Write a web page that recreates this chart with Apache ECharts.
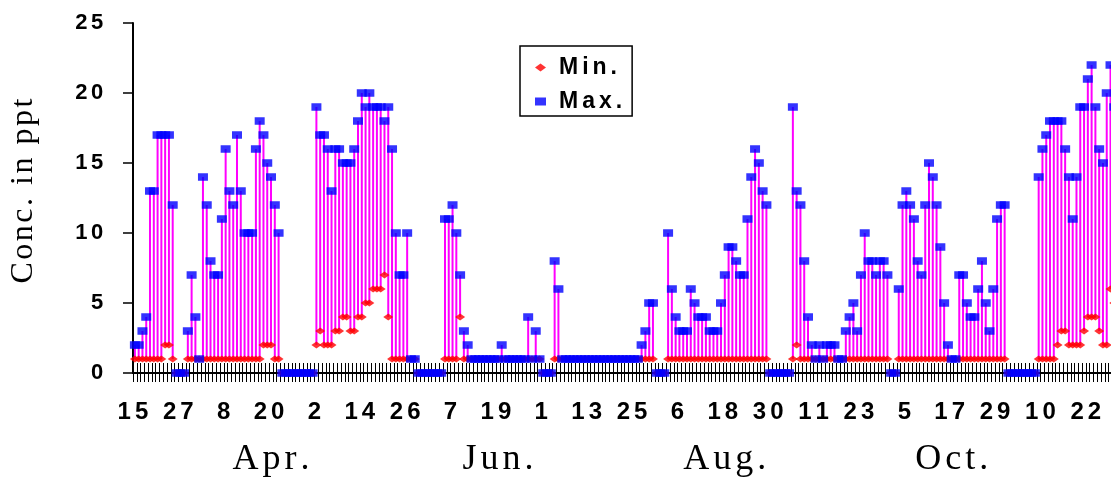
<!DOCTYPE html>
<html><head><meta charset="utf-8">
<script src="https://cdn.jsdelivr.net/npm/echarts@6/dist/echarts.min.js"></script>
<style>html,body{margin:0;padding:0;background:#fff}#c{width:1111px;height:481px}</style>
</head><body><div id="c"></div>
<script>
// Daily minimum / maximum concentrations (ppt), starting 15 March
const dayCount = 262;
const maxV = [
  2, 2, 3, 4,13,13,17,17,17,17,
 12, 0, 0, 0, 3, 7, 4, 1,14,12,
  8, 7, 7,11,16,13,12,17,13,10,
 10,10,16,18,17,15,14,12,10, 0,
  0, 0, 0, 0, 0, 0, 0, 0,19,17,
 17,16,13,16,16,15,15,15,16,18,
 20,19,20,19,19,19,18,19,16,10,
  7, 7,10, 1, 1, 0, 0, 0, 0, 0,
  0, 0,11,11,12,10, 7, 3, 2, 1,
  1, 1, 1, 1, 1, 1, 1, 2, 1, 1,
  1, 1, 1, 1, 4, 1, 3, 1, 0, 0,
  0, 8, 6, 1, 1, 1, 1, 1, 1, 1,
  1, 1, 1, 1, 1, 1, 1, 1, 1, 1,
  1, 1, 1, 1, 2, 3, 5, 5, 0, 0,
  0,10, 6, 4, 3, 3, 3, 6, 5, 4,
  4, 4, 3, 3, 3, 5, 7, 9, 9, 8,
  7, 7,11,14,16,15,13,12, 0, 0,
  0, 0, 0, 0,19,13,12, 8, 4, 2,
  1, 2, 1, 2, 2, 2, 1, 1, 3, 4,
  5, 3, 7,10, 8, 8, 7, 8, 8, 7,
  0, 0, 6,12,13,12,11, 8, 7,12,
 15,14,12, 9, 5, 2, 1, 1, 7, 7,
  5, 4, 4, 6, 8, 5, 3, 6,11,12,
 12, 0, 0, 0, 0, 0, 0, 0, 0,14,
 16,17,18,18,18,18,16,14,11,14,
 19,19,21,22,19,16,15,20,22,19
];
const minV = [
  1,1,1,1,1,1,1,1,2,2,
  1,0,0,0,1,1,1,1,1,1,
  1,1,1,1,1,1,1,1,1,1,
  1,1,1,1,2,2,2,1,1,0,
  0,0,0,0,0,0,0,0,2,3,
  2,2,2,3,3,4,4,3,3,4,
  4,5,5,6,6,6,7,4,1,1,
  1,1,1,1,1,0,0,0,0,0,
  0,0,1,1,1,1,4,1,1,1,
  1,1,1,1,1,1,1,1,1,1,
  1,1,1,1,1,1,1,1,0,0,
  0,1,1,1,1,1,1,1,1,1,
  1,1,1,1,1,1,1,1,1,1,
  1,1,1,1,1,1,1,1,0,0,
  0,1,1,1,1,1,1,1,1,1,
  1,1,1,1,1,1,1,1,1,1,
  1,1,1,1,1,1,1,1,0,0,
  0,0,0,0,1,2,1,1,1,1,
  1,1,1,1,1,1,1,1,1,1,
  1,1,1,1,1,1,1,1,1,1,
  0,0,1,1,1,1,1,1,1,1,
  1,1,1,1,1,1,1,1,1,1,
  1,1,1,1,1,1,1,1,1,1,
  1,0,0,0,0,0,0,0,0,1,
  1,1,1,1,2,3,3,2,2,2,
  2,3,4,4,4,3,2,2,6,5
];
const monthLabels = ['Apr.', 'Jun.', 'Aug.', 'Oct.'];
const monthLabelDays = ['4/20', '6/19', '8/18', '10/17'];

const categories = [];
for (let i = 0; i < dayCount; i++) {
  const d = new Date(Date.UTC(2001, 2, 15 + i));
  categories.push((d.getUTCMonth() + 1) + '/' + d.getUTCDate());
}
const stems = minV.map((v, i) => [i, v, maxV[i]]);

function spaced(s, key, lastKey) {
  const ch = s.split('');
  return ch.map((c, i) => '{' + ((i === ch.length - 1 && lastKey) ? lastKey : key) + '|' + c + '}').join('');
}
const sansB = {fontFamily: 'Liberation Sans', fontWeight: 'bold', color: '#000'};
const serif = {fontFamily: 'Liberation Serif', color: '#000'};

const chart = echarts.init(document.getElementById('c'), null, {renderer: 'canvas', width: 1111, height: 481});
const W = 3.7815;
chart.setOption({
  animation: false,
  backgroundColor: '#fff',
  grid: {left: 133, top: 23, width: dayCount * W, height: 350, containLabel: false, outerBoundsMode: 'none'},
  legend: {
    left: 520, top: 46, orient: 'vertical',
    padding: [10, 8, 3, 15],
    itemGap: 11, itemWidth: 11, itemHeight: 8,
    borderColor: '#000', borderWidth: 1.5, borderRadius: 0,
    backgroundColor: '#fff',
    selectedMode: false,
    data: [{name: 'Min.', icon: 'diamond'}, {name: 'Max.', icon: 'rect'}],
    formatter: name => '{f|' + name[0] + '}' + spaced(name.slice(1), 'l'),
    textStyle: {rich: {
      f: Object.assign({fontSize: 23, lineHeight: 24, padding: [0, 2, 0, 8]}, sansB),
      l: Object.assign({fontSize: 23, lineHeight: 24, padding: [0, 2]}, sansB)
    }}
  },
  xAxis: [{
    type: 'category', data: categories, boundaryGap: true, position: 'bottom',
    axisLine: {show: true, onZero: true, lineStyle: {color: '#000', width: 2}},
    axisTick: {show: true, interval: 0, length: 9, lineStyle: {color: '#000', width: 1}},
    axisLabel: {
      interval: 11, margin: 27,
      formatter: v => spaced(v.split('/')[1], 'd', 'e'),
      rich: {
        d: Object.assign({fontSize: 24, lineHeight: 24, padding: [0, 2]}, sansB),
        e: Object.assign({fontSize: 24, lineHeight: 24, padding: [0, 6, 0, 2]}, sansB)
      }
    },
    splitLine: {show: false}
  }, {
    type: 'category', data: categories, boundaryGap: true, position: 'bottom',
    axisLine: {show: false},
    axisTick: {show: true, inside: true, interval: 0, length: 10, lineStyle: {color: '#000', width: 1}},
    axisLabel: {
      margin: 69,
      interval: (i, v) => monthLabelDays.indexOf(categories[i]) >= 0,
      formatter: v => { const k = monthLabelDays.indexOf(v); return k < 0 ? '' : spaced(monthLabels[k], 'm'); },
      rich: {m: Object.assign({fontSize: 36, lineHeight: 36, padding: [0, 2]}, serif)}
    },
    splitLine: {show: false}
  }],
  yAxis: {
    type: 'value', min: 0, max: 25, interval: 5,
    axisLine: {show: true, lineStyle: {color: '#000', width: 2}},
    axisTick: {show: true, length: 10, lineStyle: {color: '#000', width: 1.5}},
    axisLabel: {
      margin: 28,
      formatter: v => spaced(String(v), 'y'),
      rich: {y: Object.assign({fontSize: 22, lineHeight: 22, padding: [0, 1.75]}, sansB)}
    },
    splitLine: {show: false},
    name: '{n0|C}' + spaced('onc. in ppt', 'n'),
    nameLocation: 'middle', nameRotate: 90, nameGap: 92,
    nameTextStyle: {rich: {
      n0: Object.assign({fontSize: 32, lineHeight: 34, padding: [0, 1.25, 0, 15]}, serif),
      n: Object.assign({fontSize: 32, lineHeight: 34, padding: [0, 1.25]}, serif)
    }}
  },
  series: [{
    type: 'custom', name: 'range', silent: true, z: 2,
    data: stems, encode: {x: 0, y: [1, 2]},
    renderItem: function (params, api) {
      const lo = api.value(1), hi = api.value(2);
      if (!(hi > lo)) return null;
      const a = api.coord([api.value(0), lo]);
      const b = api.coord([api.value(0), hi]);
      return {type: 'line', shape: {x1: a[0], y1: a[1], x2: b[0], y2: b[1]},
        style: {stroke: '#ff00ff', lineWidth: 2}};
    }
  }, {
    type: 'scatter', name: 'Min.', data: minV, symbol: 'diamond', symbolSize: [10, 7],
    itemStyle: {color: '#ff0000'}, z: 3, silent: true
  }, {
    type: 'scatter', name: 'Max.', data: maxV, symbol: 'rect', symbolSize: [10, 7.5],
    itemStyle: {color: '#0000ff'}, z: 4, silent: true
  }]
});
</script>
</body></html>
